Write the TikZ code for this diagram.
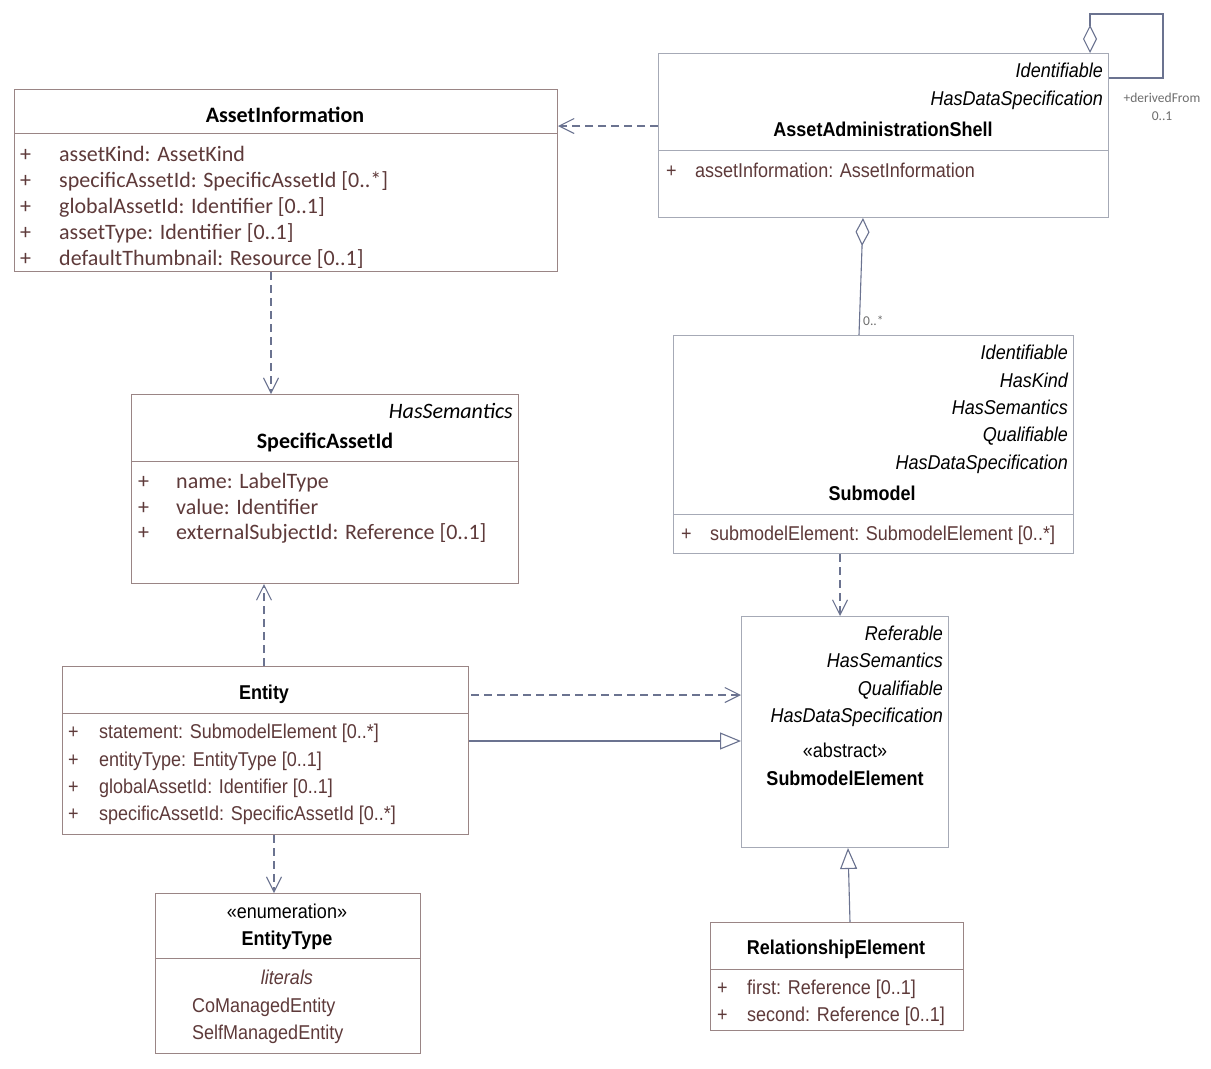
\documentclass[tikz,border=0pt]{standalone}
\usepackage{fontspec}
\setmainfont{Liberation Sans}
\newfontfamily\arf[FakeStretch=0.9]{Liberation Sans}
\newfontfamily\cbf{Carlito}
\usetikzlibrary{arrows.meta}
\definecolor{bbrown}{HTML}{9A8585}
\definecolor{bblue}{HTML}{A6AAB6}
\definecolor{attr}{HTML}{5E3A3A}
\definecolor{conn}{HTML}{6B7390}
\definecolor{lbl}{HTML}{6E6E6E}
\begin{document}
\begin{tikzpicture}[x=1pt,y=-1pt,
  boxbr/.style={draw=bbrown, line width=1pt, anchor=north west, inner sep=0pt, fill=white},
  boxbl/.style={draw=bblue, line width=1pt, anchor=north west, inner sep=0pt, fill=white},
  sepbr/.style={draw=bbrown, line width=1pt},
  sepbl/.style={draw=bblue, line width=1pt},
  aa/.style={font=\arf\fontsize{20}{24}\selectfont, inner sep=0pt, anchor=base west, text=attr},
  ait/.style={font=\arf\itshape\fontsize{20}{24}\selectfont, inner sep=0pt, anchor=base east, text=black},
  atitle/.style={font=\arf\bfseries\fontsize{20}{24}\selectfont, inner sep=0pt, anchor=base, text=black},
  aster/.style={font=\arf\fontsize{20}{24}\selectfont, inner sep=0pt, anchor=base, text=black},
  ca/.style={font=\cbf\fontsize{22}{26}\selectfont, inner sep=0pt, anchor=base west, text=attr},
  cit/.style={font=\cbf\itshape\fontsize{22}{26}\selectfont, inner sep=0pt, anchor=base east, text=black},
  ctitle/.style={font=\cbf\bfseries\fontsize{22}{26}\selectfont, inner sep=0pt, anchor=base, text=black},
  small/.style={font=\cbf\fontsize{13.5}{16}\selectfont, inner sep=0pt, anchor=base, text=lbl},
  dep/.style={draw=conn, line width=1.1pt, dash pattern=on 8pt off 5pt, -{Straight Barb[length=15pt,width=15pt,line width=1.1pt]}},
  gen/.style={draw=conn, line width=1.1pt, -{Triangle[open,length=21pt,width=17pt,fill=white,line width=1.1pt]}},
  agg/.style={draw=conn, line width=1.1pt, {Diamond[open,length=28pt,width=14pt,fill=white,line width=1.1pt]}-}
]
\useasboundingbox (0,0) rectangle (1211,1069);
\fill[white] (0,0) rectangle (1211,1069);

% ---------- AssetInformation ----------
\node[boxbr, minimum width=543pt, minimum height=182pt] (ainfo) at (14,89) {};
\draw[sepbr] (14,133) -- (557,133);
\node[ctitle] (ainfoT) at (285,122) {AssetInformation};
\node[ca] (aip1) at (20,161) {+};
\node[ca] (ai1) at (59,161) {assetKind: AssetKind};
\node[ca] (aip2) at (20,187) {+};
\node[ca] (ai2) at (59,187) {specificAssetId: SpecificAssetId [0..*]};
\node[ca] (aip3) at (20,213) {+};
\node[ca] (ai3) at (59,213) {globalAssetId: Identifier [0..1]};
\node[ca] (aip4) at (20,239) {+};
\node[ca] (ai4) at (59,239) {assetType: Identifier [0..1]};
\node[ca] (aip5) at (20,265) {+};
\node[ca] (ai5) at (59,265) {defaultThumbnail: Resource [0..1]};

% ---------- AssetAdministrationShell ----------
\node[boxbl, minimum width=450pt, minimum height=164pt] (aas) at (658,53) {};
\draw[sepbl] (658,150) -- (1108,150);
\node[ait] (aasI1) at (1103,77) {Identifiable};
\node[ait] (aasI2) at (1103,105) {HasDataSpecification};
\node[atitle] (aasT) at (883,136) {AssetAdministrationShell};
\node[aa] (aasp1) at (666,177) {+};
\node[aa] (aas1) at (695,177) {assetInformation: AssetInformation};

% ---------- Submodel ----------
\node[boxbl, minimum width=400pt, minimum height=218pt] (sm) at (673,335) {};
\draw[sepbl] (673,514) -- (1073,514);
\node[ait] (smI1) at (1068,359) {Identifiable};
\node[ait] (smI2) at (1068,387) {HasKind};
\node[ait] (smI3) at (1068,414) {HasSemantics};
\node[ait] (smI4) at (1068,441) {Qualifiable};
\node[ait] (smI5) at (1068,469) {HasDataSpecification};
\node[atitle] (smT) at (872,500) {Submodel};
\node[aa] (smp1) at (681,540) {+};
\node[aa] (sm1) at (710,540) {submodelElement: SubmodelElement [0..*]};

% ---------- SubmodelElement ----------
\node[boxbl, minimum width=207pt, minimum height=231pt] (sme) at (741,616) {};
\node[ait] (smeI1) at (943,640) {Referable};
\node[ait] (smeI2) at (943,667) {HasSemantics};
\node[ait] (smeI3) at (943,695) {Qualifiable};
\node[ait] (smeI4) at (943,722) {HasDataSpecification};
\node[aster] (smeS) at (845,757) {«abstract»};
\node[atitle] (smeT) at (845,785) {SubmodelElement};

% ---------- SpecificAssetId ----------
\node[boxbr, minimum width=387pt, minimum height=189pt] (said) at (131,394) {};
\draw[sepbr] (131,461) -- (518,461);
\node[cit] (saidI) at (513,418) {HasSemantics};
\node[ctitle] (saidT) at (325,448) {SpecificAssetId};
\node[ca] (saidp1) at (138,488) {+};
\node[ca] (said1) at (176,488) {name: LabelType};
\node[ca] (saidp2) at (138,514) {+};
\node[ca] (said2) at (176,514) {value: Identifier};
\node[ca] (saidp3) at (138,539) {+};
\node[ca] (said3) at (176,539) {externalSubjectId: Reference [0..1]};

% ---------- Entity ----------
\node[boxbr, minimum width=406pt, minimum height=168pt] (ent) at (62,666) {};
\draw[sepbr] (62,713) -- (468,713);
\node[atitle] (entT) at (264,699) {Entity};
\node[aa] (entp1) at (68,738) {+};
\node[aa] (ent1) at (99,738) {statement: SubmodelElement [0..*]};
\node[aa] (entp2) at (68,766) {+};
\node[aa] (ent2) at (99,766) {entityType: EntityType [0..1]};
\node[aa] (entp3) at (68,793) {+};
\node[aa] (ent3) at (99,793) {globalAssetId: Identifier [0..1]};
\node[aa] (entp4) at (68,820) {+};
\node[aa] (ent4) at (99,820) {specificAssetId: SpecificAssetId [0..*]};

% ---------- EntityType ----------
\node[boxbr, minimum width=265pt, minimum height=160pt] (etype) at (155,893) {};
\draw[sepbr] (155,958) -- (420,958);
\node[aster] (etS) at (287,918) {«enumeration»};
\node[atitle] (etT) at (287,945) {EntityType};
\node[font=\arf\itshape\fontsize{20}{24}\selectfont, inner sep=0pt, anchor=base, text=attr] (etL) at (287,984) {literals};
\node[aa] (et1) at (192,1012) {CoManagedEntity};
\node[aa] (et2) at (192,1039) {SelfManagedEntity};

% ---------- RelationshipElement ----------
\node[boxbr, minimum width=253pt, minimum height=108pt] (rel) at (710,922) {};
\draw[sepbr] (710,969) -- (963,969);
\node[atitle] (relT) at (836,954) {RelationshipElement};
\node[aa] (relp1) at (717,994) {+};
\node[aa] (rel1) at (747,994) {first: Reference [0..1]};
\node[aa] (relp2) at (717,1021) {+};
\node[aa] (rel2) at (747,1021) {second: Reference [0..1]};

% ---------- connectors ----------
\draw[dep] (aas.west |- 0,126) -- (ainfo.east |- 0,126);
\draw[dep] (ainfo.south -| 271,0) -- (said.north -| 271,0);
\draw[agg] (aas.south -| 863,0) -- (sm.north -| 859,0);
\node[small, anchor=base west] (mult1) at (863,325) {0..*};
\coordinate (selfA) at (1090,14);
\coordinate (selfB) at (1163,14);
\coordinate (selfC) at (1163,78);
\draw[agg] (aas.north -| 1090,0) -- (selfA) -- (selfB) -- (selfC) -- (aas.east |- selfC);
\node[small] (dfrom) at (1162,102) {+derivedFrom};
\node[small] (dmult) at (1162,120) {0..1};
\draw[dep] (sm.south -| 840,0) -- (sme.north -| 840,0);
\draw[dep] (ent.north -| 264,0) -- (said.south -| 264,0);
\draw[dep] ([xshift=2pt]ent.east |- 0,695) -- (sme.west |- 0,695);
\draw[gen] (ent.east |- 0,741) -- (sme.west |- 0,741);
\draw[dep] (ent.south -| 274,0) -- (etype.north -| 274,0);
\draw[gen] (rel.north -| 850,0) -- (sme.south -| 848,0);
\end{tikzpicture}
\end{document}
